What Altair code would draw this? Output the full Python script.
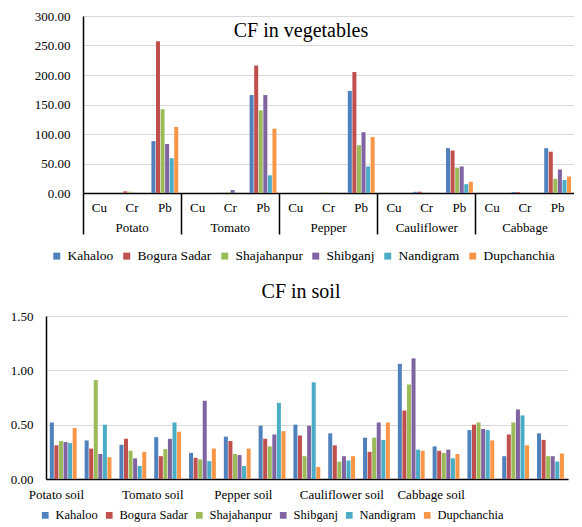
import altair as alt
import pandas as pd

SERIF = "Liberation Serif"

locations = ["Kahaloo", "Bogura Sadar", "Shajahanpur", "Shibganj", "Nandigram", "Dupchanchia"]
colors = ["#4F81BD", "#C0504D", "#9BBB59", "#8064A2", "#4BACC6", "#F79646"]
metals = ["Cu", "Cr", "Pb"]

# ---- CF in vegetables (values per location, in the order of `locations`)
vegetables = ["Potato", "Tomato", "Pepper", "Cauliflower", "Cabbage"]
potato_cu = [0.0, 0.0, 0.0, 0.0, 0.0, 0.0]
potato_cr = [0.2, 2.8, 2.2, 0.3, 0.1, 0.2]
potato_pb = [88, 257, 142, 83, 59, 112]
tomato_cu = [0.0, 0.0, 0.0, 0.0, 0.0, 0.0]
tomato_cr = [0.2, 0.3, 1.0, 5.0, 0.2, 0.3]
tomato_pb = [166, 216, 140, 166, 30, 109]
pepper_cu = [0.0, 0.0, 0.0, 0.0, 0.0, 0.0]
pepper_cr = [0.2, 0.3, 1.2, 0.2, 0.1, 0.2]
pepper_pb = [173, 205, 81, 103, 45, 95]
cauliflower_cu = [0.0, 0.0, 0.0, 0.0, 0.0, 0.0]
cauliflower_cr = [2.0, 2.2, 0.8, 0.2, 0.1, 0.2]
cauliflower_pb = [76, 72, 43, 45, 15, 19]
cabbage_cu = [0.0, 0.0, 0.0, 0.0, 0.0, 0.0]
cabbage_cr = [1.5, 1.5, 0.3, 0.2, 0.1, 0.2]
cabbage_pb = [76, 70, 24, 40, 22, 28]
veg_ticks = [0, 50, 100, 150, 200, 250, 300]
veg_title = ["CF in vegetables"]

# ---- CF in soil
soils = ["Potato soil", "Tomato soil", "Pepper soil", "Cauliflower soil", "Cabbage soil"]
potato_soil_cu = [0.52, 0.31, 0.35, 0.34, 0.33, 0.47]
potato_soil_cr = [0.355, 0.28, 0.91, 0.23, 0.50, 0.20]
potato_soil_pb = [0.315, 0.37, 0.26, 0.19, 0.12, 0.25]
tomato_soil_cu = [0.385, 0.21, 0.275, 0.37, 0.52, 0.435]
tomato_soil_cr = [0.24, 0.195, 0.18, 0.72, 0.165, 0.28]
tomato_soil_pb = [0.39, 0.35, 0.23, 0.22, 0.12, 0.28]
pepper_soil_cu = [0.49, 0.37, 0.30, 0.41, 0.70, 0.44]
pepper_soil_cr = [0.50, 0.40, 0.21, 0.49, 0.89, 0.11]
pepper_soil_pb = [0.42, 0.31, 0.16, 0.21, 0.17, 0.21]
cauliflower_soil_cu = [0.38, 0.25, 0.38, 0.52, 0.36, 0.52]
cauliflower_soil_cr = [1.06, 0.63, 0.87, 1.11, 0.27, 0.26]
cauliflower_soil_pb = [0.30, 0.26, 0.24, 0.27, 0.19, 0.23]
cabbage_soil_cu = [0.45, 0.50, 0.52, 0.46, 0.45, 0.355]
cabbage_soil_cr = [0.21, 0.41, 0.52, 0.64, 0.585, 0.31]
cabbage_soil_pb = [0.42, 0.36, 0.21, 0.21, 0.16, 0.235]
soil_ticks = [0, 0.5, 1.0, 1.5]
soil_tick_labels = ["Potato soil", "", "", "Tomato soil", "", "Pepper soil", "", "",
                    "Cauliflower soil", "", "", "Cabbage soil", "", "", ""]

veg_series = {
    "Potato": [potato_cu, potato_cr, potato_pb],
    "Tomato": [tomato_cu, tomato_cr, tomato_pb],
    "Pepper": [pepper_cu, pepper_cr, pepper_pb],
    "Cauliflower": [cauliflower_cu, cauliflower_cr, cauliflower_pb],
    "Cabbage": [cabbage_cu, cabbage_cr, cabbage_pb],
}
soil_series = {
    "Potato soil": [potato_soil_cu, potato_soil_cr, potato_soil_pb],
    "Tomato soil": [tomato_soil_cu, tomato_soil_cr, tomato_soil_pb],
    "Pepper soil": [pepper_soil_cu, pepper_soil_cr, pepper_soil_pb],
    "Cauliflower soil": [cauliflower_soil_cu, cauliflower_soil_cr, cauliflower_soil_pb],
    "Cabbage soil": [cabbage_soil_cu, cabbage_soil_cr, cabbage_soil_pb],
}


def build(groups, series):
    rows, slots = [], []
    for g in groups:
        for m, vals in zip(metals, series[g]):
            slot = f"{g}|{m}"
            slots.append(slot)
            for loc, v in zip(locations, vals):
                rows.append({"group": g, "metal": m, "slot": slot, "location": loc, "value": v})
    return pd.DataFrame(rows), slots


df_veg, veg_slots = build(vegetables, veg_series)
df_soil, soil_slots = build(soils, soil_series)

color_scale = alt.Scale(domain=locations, range=colors)


def legend(size, x, y, pad):
    return alt.Legend(title=None, orient="none", direction="horizontal", legendX=x, legendY=y,
                      symbolType="square", symbolSize=size * 3.6, symbolStrokeWidth=0,
                      labelFont=SERIF, labelFontSize=size, labelColor="black",
                      columnPadding=pad, labelOffset=4, padding=0)


# ---------------- top chart ----------------
TOP_W, TOP_SHIFT = 528, 37
top_range = [TOP_SHIFT, TOP_W]

top_bars = alt.Chart(df_veg).mark_bar().encode(
    x=alt.X("slot:N", sort=veg_slots,
            scale=alt.Scale(range=top_range, paddingInner=0.18, paddingOuter=0.09),
            axis=alt.Axis(title=None, orient="bottom", labelExpr="split(datum.value, '|')[1]",
                          ticks=False, tickSize=0, labelAngle=0, labelPadding=8, grid=False,
                          domainColor="black", domainWidth=1.5,
                          labelFont=SERIF, labelFontSize=13, labelColor="black")),
    xOffset=alt.XOffset("location:N", sort=locations, scale=alt.Scale(paddingInner=0.12)),
    y=alt.Y("value:Q", scale=alt.Scale(domain=[0, 300]),
            axis=alt.Axis(title=None, values=veg_ticks, format=".2f", ticks=False, tickSize=0,
                          offset=-TOP_SHIFT, labelPadding=13,
                          domainColor="black", domainWidth=1.5,
                          gridColor="#D9D9D9", gridWidth=1,
                          labelFont=SERIF, labelFontSize=13, labelColor="black")),
    color=alt.Color("location:N", sort=locations, scale=color_scale,
                    legend=legend(13.5, 4, 233, 6)),
)

veg_axis = alt.Chart(pd.DataFrame({"vegetable": vegetables})).mark_rule(opacity=0).encode(
    x=alt.X("vegetable:N", sort=vegetables,
            scale=alt.Scale(range=top_range, paddingInner=0, paddingOuter=0),
            axis=alt.Axis(title=None, orient="bottom", domain=False, ticks=True, tickSize=41,
                          tickColor="black", tickWidth=1.5, bandPosition=0, labelPadding=-13,
                          labelAngle=0, grid=False, labelFont=SERIF, labelFontSize=13,
                          labelColor="black")),
)

veg_title_mark = alt.Chart(pd.DataFrame({"t": veg_title})).mark_text(
    font=SERIF, fontSize=20, color="black", baseline="middle", align="center"
).encode(text="t:N", x=alt.value(255), y=alt.value(15))

top = alt.layer(top_bars, veg_axis, veg_title_mark).resolve_scale(x="independent").properties(
    width=TOP_W, height=177,
)

# ---------------- bottom chart ----------------
label_map = {s: l for s, l in zip(soil_slots, soil_tick_labels) if l}
expr = "".join(f"datum.value == '{s}' ? '{l}' : " for s, l in label_map.items()) + "''"


def slot_test(indices):
    return " || ".join(f"datum.value == '{soil_slots[i]}'" for i in indices)


label_offset = {
    "condition": [
        {"test": slot_test((3, 11)), "value": -15},
        {"test": slot_test((0,)), "value": -7},
        {"test": slot_test((5,)), "value": 6},
    ],
    "value": 0,
}

bottom = alt.Chart(df_soil).mark_bar().encode(
    x=alt.X("slot:N", sort=soil_slots,
            scale=alt.Scale(paddingInner=0.22, paddingOuter=0.11),
            axis=alt.Axis(title=None, labelExpr=expr, ticks=False, tickSize=0, labelAngle=0,
                          labelPadding=9, grid=False, domainColor="black", domainWidth=1.5,
                          labelOffset=label_offset,
                          labelFont=SERIF, labelFontSize=13, labelColor="black",
                          labelOverlap=False, labelBound=False)),
    xOffset=alt.XOffset("location:N", sort=locations, scale=alt.Scale(paddingInner=0.2)),
    y=alt.Y("value:Q", scale=alt.Scale(domain=[0, 1.5]),
            axis=alt.Axis(title=None, values=soil_ticks, format=".2f", ticks=False, tickSize=0,
                          labelPadding=13, domainColor="black", domainWidth=1.5,
                          gridColor="#D9D9D9", gridWidth=1,
                          labelFont=SERIF, labelFontSize=13, labelColor="black")),
    color=alt.Color("location:N", sort=locations, scale=color_scale,
                    legend=legend(12.5, -7, 193, 5)),
).properties(
    width=522, height=163,
    title=alt.TitleParams("CF in soil", font=SERIF, fontSize=20, fontWeight="normal",
                          color="black", offset=8, dx=-6, anchor="middle"),
)

chart = alt.vconcat(top, bottom, spacing=19).resolve_legend(
    color="independent"
).properties(
    padding={"left": 2, "top": 2, "right": 0, "bottom": 0},
    background="white",
).configure(font=SERIF).configure_axis(labelFont=SERIF).configure_legend(
    labelFont=SERIF
).configure_view(stroke=None)

chart.save("out.html", embed_options={"renderer": "svg", "actions": False})
